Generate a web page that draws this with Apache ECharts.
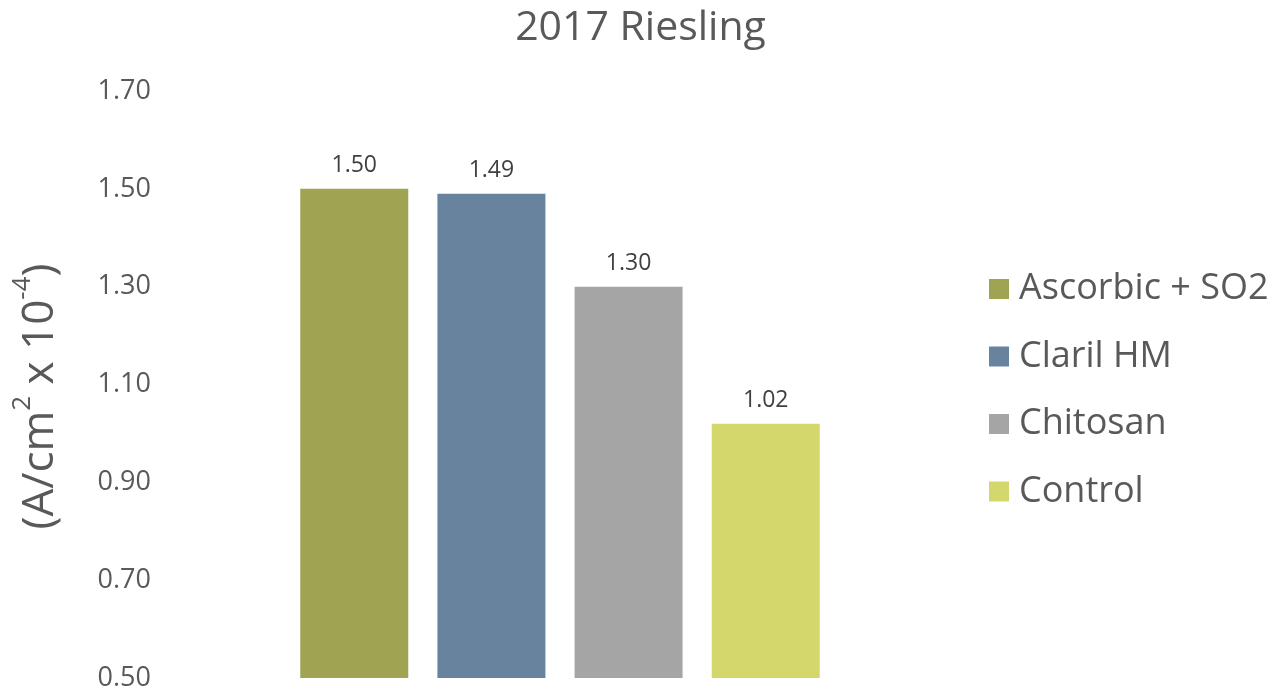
<!DOCTYPE html>
<html>
<head>
<meta charset="utf-8">
<script src="https://cdn.jsdelivr.net/npm/echarts@6/dist/echarts.min.js"></script>
<style>
  html, body { margin: 0; padding: 0; background: #fff; }
  #chart { width: 1281px; height: 692px; }
</style>
</head>
<body>
<div id="chart"></div>
<script>
// Absorbance per treatment, 2017 Riesling
const category = ['2017 Riesling'];
const treatments = ['Ascorbic + SO2', 'Claril HM', 'Chitosan', 'Control'];
const values = [1.50, 1.49, 1.30, 1.02];
const colors = ['#9FA352', '#68839D', '#A5A5A5', '#D4D76B'];
const yTicks = { min: 0.5, max: 1.7, interval: 0.2 };

const FONT = '"Open Sans", "Liberation Sans", sans-serif';

const series = treatments.map((name, i) => ({
  name: name,
  type: 'bar',
  data: [values[i]],
  barWidth: 108,
  barGap: '27%',
  itemStyle: { color: colors[i] },
  label: {
    show: true,
    position: 'top',
    distance: 12,
    formatter: p => p.value.toFixed(2),
    color: '#404040',
    fontFamily: FONT,
    fontSize: 23
  }
}));

const chart = echarts.init(document.getElementById('chart'));
chart.setOption({
  animation: false,
  title: {
    text: '2017 Riesling',
    left: 'center',
    top: 3,
    textStyle: { color: '#595959', fontFamily: FONT, fontSize: 41, fontWeight: 'normal' }
  },
  legend: {
    orient: 'vertical',
    left: 984,
    top: 264,
    itemWidth: 20,
    itemHeight: 20,
    itemGap: 27.5,
    icon: 'rect',
    textStyle: {
      color: '#595959', fontFamily: FONT, fontSize: 36, lineHeight: 40,
      padding: [0, 0, 0, 5]
    },
    data: treatments
  },
  grid: { left: 180, right: 341, top: 91, bottom: 14 },
  xAxis: {
    type: 'category',
    data: category,
    axisLine: { show: false },
    axisTick: { show: false },
    axisLabel: { show: false }
  },
  yAxis: {
    type: 'value',
    min: yTicks.min,
    max: yTicks.max,
    interval: yTicks.interval,
    splitLine: { show: false },
    axisLine: { show: false },
    axisTick: { show: false },
    axisLabel: {
      margin: 29,
      color: '#595959',
      fontFamily: FONT,
      fontSize: 27,
      formatter: v => v.toFixed(2)
    },
    name: '{n|(A/cm}{s|2}{n| x 10}{s|-4}{n|)}',
    nameLocation: 'middle',
    nameGap: 118,
    nameRotate: 90,
    nameTextStyle: {
      padding: [0, 24, 0, 0],
      rich: {
        n: { color: '#595959', fontFamily: FONT, fontSize: 44, lineHeight: 54, verticalAlign: 'bottom' },
        s: { color: '#595959', fontFamily: FONT, fontSize: 26, lineHeight: 54, verticalAlign: 'top', padding: [2, 0, 0, 0] }
      }
    }
  },
  series: series
});
</script>
</body>
</html>
